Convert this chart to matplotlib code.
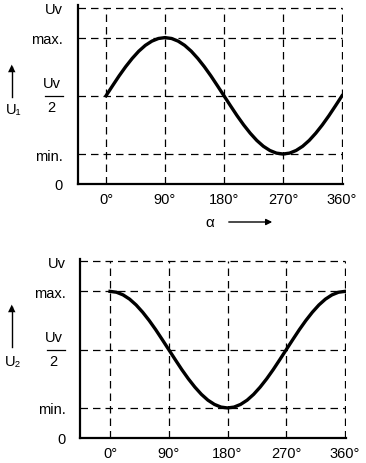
import matplotlib.pyplot as plt
from matplotlib.lines import Line2D

plt.rcParams['font.family'] = ['Liberation Sans', 'DejaVu Sans']

# angle (degrees) and voltage relative to Uv
alpha = [0, 10, 20, 30, 40, 50, 60, 70, 80, 90, 100, 110, 120, 130, 140, 150, 160, 170, 180,
         190, 200, 210, 220, 230, 240, 250, 260, 270, 280, 290, 300, 310, 320, 330, 340, 350, 360]
u1 = [0.500, 0.557, 0.613, 0.665, 0.712, 0.753, 0.786, 0.810, 0.825, 0.830,
      0.825, 0.810, 0.786, 0.753, 0.712, 0.665, 0.613, 0.557, 0.500,
      0.443, 0.387, 0.335, 0.288, 0.247, 0.214, 0.190, 0.175, 0.170,
      0.175, 0.190, 0.214, 0.247, 0.288, 0.335, 0.387, 0.443, 0.500]
u2 = [0.830, 0.825, 0.810, 0.786, 0.753, 0.712, 0.665, 0.613, 0.557, 0.500,
      0.443, 0.387, 0.335, 0.288, 0.247, 0.214, 0.190, 0.175, 0.170,
      0.175, 0.190, 0.214, 0.247, 0.288, 0.335, 0.387, 0.443, 0.500,
      0.557, 0.613, 0.665, 0.712, 0.753, 0.786, 0.810, 0.825, 0.830]

x_ticks = [0, 90, 180, 270, 360]
x_labels = ['0°', '90°', '180°', '270°', '360°']
y_levels = [0.0, 0.17, 0.5, 0.83, 1.0]
y_labels = ['0', 'min.', '', 'max.', 'Uv']

fig = plt.figure(figsize=(3.66, 4.64), dpi=100)
ax1 = fig.add_axes([0.2126, 0.6013, 0.7254, 0.3847])
ax2 = fig.add_axes([0.2186, 0.0539, 0.7276, 0.3853])


def setup(ax, y, left, name, arrow_y, pad):
    ax.plot(alpha, y, color='black', lw=2.4, solid_joinstyle='round', zorder=3)
    for xv in x_ticks:
        ax.plot([xv, xv], [0, 1.0], color='black', lw=0.9, ls=(0, (6, 4)), zorder=2)
    for yv in y_levels[1:]:
        ax.plot([left, 360], [yv, yv], color='black', lw=0.9, ls=(0, (6, 4)), zorder=2)
    ax.set_xlim(left, 362)
    ax.set_ylim(0, 1.012)
    for s in ['top', 'right']:
        ax.spines[s].set_visible(False)
    for s in ['left', 'bottom']:
        ax.spines[s].set_linewidth(1.6)
    ax.set_xticks(x_ticks)
    ax.set_xticklabels(x_labels, fontsize=10.5)
    ax.set_yticks(y_levels)
    ax.set_yticklabels(y_labels, fontsize=10.5)
    ax.tick_params(length=0)
    ax.tick_params(axis='y', pad=pad)
    ax.tick_params(axis='x', pad=6)
    # Uv / 2 fraction label
    tr = ax.get_yaxis_transform()
    ax.annotate('Uv', xy=(0, 0.5), xycoords=tr, xytext=(-19, 4), textcoords='offset points',
                ha='center', va='bottom', fontsize=10.5, annotation_clip=False)
    ax.annotate('2', xy=(0, 0.5), xycoords=tr, xytext=(-19, -3), textcoords='offset points',
                ha='center', va='top', fontsize=10.5, annotation_clip=False)
    ax.add_line(Line2D([-0.124, -0.056], [0.5, 0.5], color='black', lw=0.9,
                       transform=tr, clip_on=False))
    # axis name with upward arrow
    fig.add_artist(Line2D([0.033, 0.033], [arrow_y[0], arrow_y[1]], color='black', lw=1.0,
                          transform=fig.transFigure))
    fig.text(0.033, arrow_y[1], '▲', ha='center', va='center', fontsize=7,
             family='DejaVu Sans')
    fig.text(0.036, arrow_y[2], name, ha='center', va='center', fontsize=10.5)


setup(ax1, u1, -43, 'U\u2081', (1 - 98 / 464, 1 - 68 / 464, 1 - 110 / 464), 11)
setup(ax2, u2, -46, 'U\u2082', (1 - 348 / 464, 1 - 308 / 464, 1 - 362 / 464), 10)

# alpha label with arrow under the first chart
fig.text(210 / 366, 1 - 223 / 464, 'α', ha='center', va='center', fontsize=11)
ax1.annotate('', xy=(275 / 366, 1 - 223 / 464), xycoords='figure fraction',
             xytext=(226 / 366, 1 - 223 / 464), textcoords='figure fraction',
             arrowprops=dict(arrowstyle='-|>', color='black', lw=1.0, mutation_scale=9))

fig.savefig('out.png', dpi=100)
